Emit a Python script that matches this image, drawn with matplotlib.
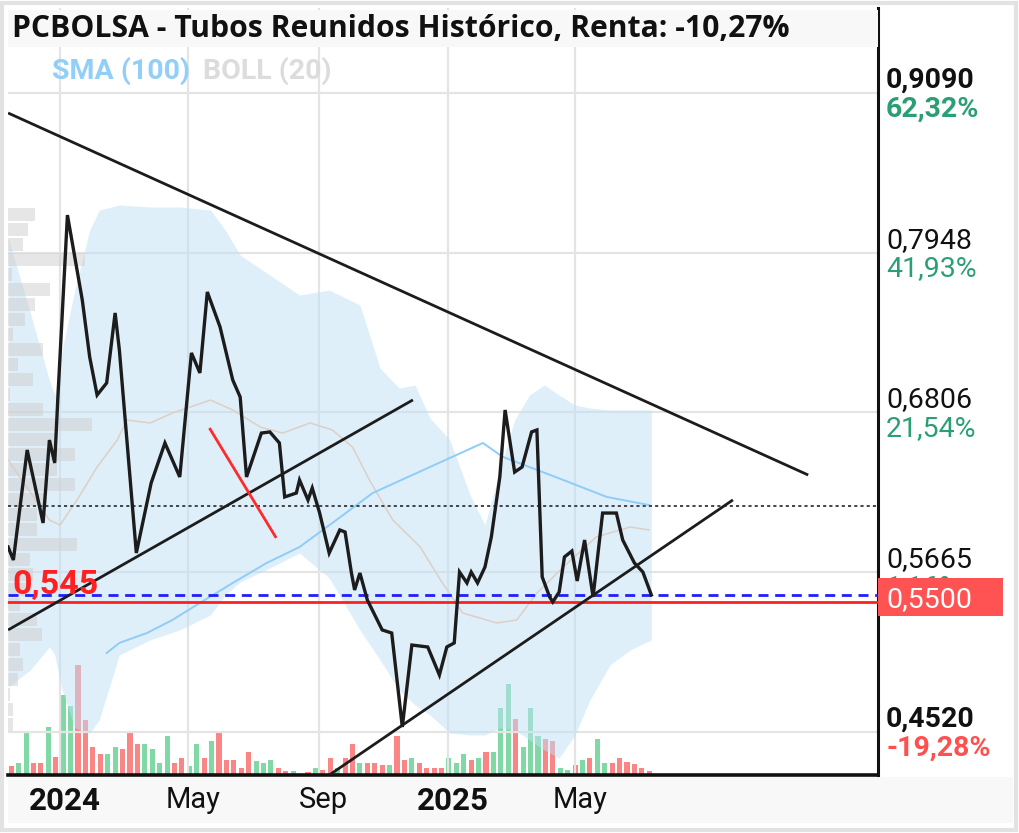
import matplotlib
matplotlib.use("Agg")
import matplotlib.pyplot as plt
import matplotlib.transforms as mtransforms
from matplotlib.patches import Rectangle
import numpy as np
import pandas as pd

# ---------------- data ----------------
title = "PCBOLSA - Tubos Reunidos Histórico, Renta: -10,27%"

price_dates = ["2023-11-13", "2023-11-18", "2023-12-01", "2023-12-16", "2023-12-22", "2023-12-27",
               "2023-12-30", "2024-01-08", "2024-01-22", "2024-01-29", "2024-02-05", "2024-02-14",
               "2024-02-22", "2024-02-26", "2024-03-13", "2024-03-27", "2024-04-09", "2024-04-23",
               "2024-05-04", "2024-05-12", "2024-05-19", "2024-05-31", "2024-06-12", "2024-06-19",
               "2024-06-25", "2024-07-09", "2024-07-17", "2024-07-26", "2024-07-31", "2024-08-11",
               "2024-08-14", "2024-08-22", "2024-08-26", "2024-09-02", "2024-09-11", "2024-09-21",
               "2024-09-26", "2024-10-02", "2024-10-05", "2024-10-10", "2024-10-17", "2024-10-31",
               "2024-11-09", "2024-11-19", "2024-11-28", "2024-12-13", "2024-12-24", "2024-12-31",
               "2025-01-07", "2025-01-12", "2025-01-19", "2025-01-23", "2025-01-29", "2025-02-05",
               "2025-02-11", "2025-02-19", "2025-02-24", "2025-03-05", "2025-03-12", "2025-03-21",
               "2025-03-26", "2025-03-31", "2025-04-07", "2025-04-10", "2025-04-16", "2025-04-21",
               "2025-04-28", "2025-05-03", "2025-05-10", "2025-05-18", "2025-05-27", "2025-06-09",
               "2025-06-15", "2025-06-26", "2025-07-04", "2025-07-12"]
price_close = [0.5843, 0.5750, 0.6537, 0.6015, 0.6608, 0.6444,
               0.6916, 0.8217, 0.7610, 0.7202, 0.6930, 0.7016,
               0.7517, 0.7252, 0.5800, 0.6301, 0.6587, 0.6344,
               0.7231, 0.7088, 0.7667, 0.7417, 0.7037, 0.6916,
               0.6344, 0.6658, 0.6666, 0.6587, 0.6201, 0.6229,
               0.6322, 0.6179, 0.6265, 0.6086, 0.5800, 0.5965,
               0.5950, 0.5657, 0.5536, 0.5657, 0.5464, 0.5250,
               0.5228, 0.4556, 0.5142, 0.5128, 0.4928, 0.5128,
               0.5157, 0.5664, 0.5586, 0.5664, 0.5586, 0.5700,
               0.5915, 0.6344, 0.6823, 0.6379, 0.6415, 0.6666,
               0.6680, 0.5629, 0.5486, 0.5450, 0.5521, 0.5772,
               0.5814, 0.5600, 0.5893, 0.5486, 0.6086, 0.6086,
               0.5893, 0.5729, 0.5664, 0.5500]

band_dates = ["2023-11-13", "2023-12-04", "2023-12-22", "2023-12-27", "2024-01-03", "2024-01-15",
              "2024-01-29", "2024-02-07", "2024-02-26", "2024-03-26", "2024-04-23", "2024-05-22",
              "2024-06-05", "2024-06-19", "2024-07-17", "2024-08-14", "2024-09-11", "2024-10-10",
              "2024-10-29", "2024-11-16", "2024-12-01", "2024-12-15", "2025-01-03", "2025-01-22",
              "2025-02-05", "2025-02-19", "2025-03-05", "2025-03-19", "2025-04-02", "2025-04-16",
              "2025-05-01", "2025-05-15", "2025-06-03", "2025-06-22", "2025-07-12"]
band_upper = [0.8060, 0.7517, 0.7037, 0.6930, 0.7252, 0.7681,
              0.8110, 0.8253, 0.8289, 0.8275, 0.8275, 0.8253,
              0.8110, 0.7931, 0.7788, 0.7645, 0.7681, 0.7574,
              0.7123, 0.6980, 0.7002, 0.6766, 0.6608, 0.6215,
              0.6000, 0.6394, 0.6751, 0.6930, 0.7002, 0.6930,
              0.6859, 0.6837, 0.6823, 0.6823, 0.6823]
band_lower = [0.4842, 0.4963, 0.5128, 0.5071, 0.4820, 0.4549,
              0.4513, 0.4606, 0.5071, 0.5178, 0.5250, 0.5357,
              0.5500, 0.5593, 0.5693, 0.5800, 0.5621, 0.5250,
              0.5035, 0.4820, 0.4713, 0.4642, 0.4513, 0.4499,
              0.4499, 0.4549, 0.4534, 0.4463, 0.4391, 0.4334,
              0.4499, 0.4749, 0.4999, 0.5107, 0.5178]

mid_dates = ["2023-11-13", "2023-12-22", "2024-01-01", "2024-01-17", "2024-02-05", "2024-02-24",
             "2024-03-04", "2024-03-26", "2024-04-16", "2024-05-22", "2024-06-12", "2024-07-08",
             "2024-07-29", "2024-08-24", "2024-09-14", "2024-10-03", "2024-10-19", "2024-11-10",
             "2024-12-06", "2024-12-25", "2025-01-15", "2025-02-16", "2025-03-07", "2025-03-26",
             "2025-04-20", "2025-05-21", "2025-06-22", "2025-07-10"]
mid_values = [0.6465, 0.6036, 0.6000, 0.6179, 0.6415, 0.6608,
              0.6751, 0.6730, 0.6801, 0.6894, 0.6823, 0.6701,
              0.6658, 0.6730, 0.6680, 0.6558, 0.6322, 0.6036,
              0.5843, 0.5607, 0.5371, 0.5300, 0.5321, 0.5514,
              0.5700, 0.5915, 0.5986, 0.5965]

sma_dates = ["2024-02-14", "2024-02-26", "2024-03-23", "2024-04-16", "2024-05-12", "2024-06-12",
             "2024-07-14", "2024-08-14", "2024-09-14", "2024-10-22", "2024-12-15", "2025-02-03",
             "2025-02-22", "2025-03-19", "2025-04-20", "2025-05-31", "2025-07-10"]
sma_values = [0.5085, 0.5157, 0.5228, 0.5321, 0.5443, 0.5586,
              0.5729, 0.5843, 0.6015, 0.6229, 0.6415, 0.6587,
              0.6487, 0.6415, 0.6322, 0.6201, 0.6143]

vol_start = "2023-11-16"
volume = [27, 35, 134, 37, 37, 144, 54, 242, 209, 332,
          167, 85, 62, 62, 85, 77, 134, 94, 94, 77,
          37, 119, 37, 52, 27, 94, 52, 104, 134, 45,
          45, 20, 70, 42, 35, 45, 20, 12, 12, 4,
          10, 20, 14, 52, 22, 52, 94, 37, 37, 37,
          29, 29, 119, 45, 52, 37, 20, 20, 20, 52,
          37, 62, 45, 52, 69, 69, 202, 274, 169, 85,
          202, 119, 110, 104, 20, 14, 29, 45, 52, 110,
          37, 37, 52, 39, 32, 20, 12]
vol_dir = ("RGGRRGRGGR" "RRRGGRRRGG" "GGRRGGRGRR" "RRRGGGRRGG" "RGRRGRRGRR"
           "RGRRGRRRRG" "GGRGRGGGRG" "GGRRGGRGRG" "GRRRRRR")

profile_price = [0.8221, 0.8114, 0.8006, 0.7899, 0.7792, 0.7685, 0.7577, 0.7470, 0.7363,
                 0.7255, 0.7148, 0.7041, 0.6934, 0.6826, 0.6719, 0.6612, 0.6504, 0.6397,
                 0.6290, 0.6183, 0.6075, 0.5968, 0.5861, 0.5753, 0.5646, 0.5539, 0.5432,
                 0.5324, 0.5217, 0.5110, 0.5002, 0.4895, 0.4788, 0.4681, 0.4573]
profile_vol = [27, 20, 15, 77, 4, 42, 27, 17, 5,
               35, 10, 25, 2, 35, 84, 47, 67, 49,
               67, 39, 29, 29, 69, 22, 25, 22, 12,
               29, 34, 12, 15, 10, 2, 5, 5]

level_ticks = [0.9090, 0.7948, 0.6806, 0.5665, 0.4520]
level_text = ["0,9090", "0,7948", "0,6806", "0,5665", "0,4520"]
level_pct = ["62,32%", "41,93%", "21,54%", "1,16%", "-19,28%"]

last_price = 0.5500
last_text = "0,5500"
support_level = 0.545
support_text = "0,545"
dotted_level = 0.6137

trend_down = (["2023-11-13", "2025-12-07"], [0.8947, 0.6358])
channel_up = (["2023-11-13", "2024-11-29"], [0.5250, 0.6895])
support_up = (["2024-09-11", "2025-09-27"], [0.4212, 0.6180])
red_segment = (["2024-05-21", "2024-07-23"], [0.6694, 0.5908])

x_tick_dates = ["2024-01-01", "2024-05-01", "2024-09-01", "2025-01-01", "2025-05-01"]
x_tick_labels = ["2024", "May", "Sep", "2025", "May"]
x_tick_bold = [True, False, False, True, False]

# ---------------- layout ----------------
W, H, DPI = 1020, 833, 100
fig = plt.figure(figsize=(W / DPI, H / DPI), dpi=DPI)
fig.patch.set_facecolor("white")


def fx(px):
    return px / W


def fy(py):
    return 1 - py / H


AX_L, AX_R, AX_T, AX_B = 8, 878, 8, 775
rect = [fx(AX_L), fy(AX_B), fx(AX_R) - fx(AX_L), fy(AX_T) - fy(AX_B)]
axv = fig.add_axes(rect)
ax = fig.add_axes(rect, sharex=axv)
ax.set_zorder(2)
ax.patch.set_visible(False)

XLIM = (pd.Timestamp("2023-11-12 22:00"), pd.Timestamp("2026-02-10 21:00"))
YLIM = (0.42125, 0.96979)
ax.set_xlim(*XLIM)
ax.set_ylim(*YLIM)

FONT = "Roboto"
GREEN_T = "#2a9f74"
RED_T = "#ff5050"
LBL_SIZE = 20.5

# grid
for t in level_ticks:
    ax.axhline(t, color="#e4e4e4", lw=1.6, zorder=0.5)
for d in x_tick_dates:
    ax.axvline(pd.Timestamp(d), color="#e4e4e4", lw=1.6, zorder=0.5)

# volume
vol_dates = pd.date_range(vol_start, periods=len(volume), freq="7D")
vcolors = ["#80d9a5" if c == "G" else "#f98585" for c in vol_dir]
axv.bar(vol_dates, volume, width=4.8, color=vcolors, zorder=1)
axv.set_ylim(0, 2315)
axv.set_yticks([])
for s in axv.spines.values():
    s.set_visible(False)
axv.tick_params(axis="x", length=0, labelbottom=False)

# bollinger band
bd = pd.to_datetime(band_dates)
ax.fill_between(bd, band_lower, band_upper, color="#c1e1f7", alpha=0.5, lw=0, zorder=1)
ax.plot(pd.to_datetime(mid_dates), mid_values, color="#dccfc6", lw=1.1, zorder=2)
ax.plot(pd.to_datetime(sma_dates), sma_values, color="#8ecdf6", lw=1.4, zorder=2)

# volume profile (left)
pv = np.array(profile_vol, dtype=float)
ax.barh(profile_price, pv / 870.0, height=0.0098, left=0,
        transform=ax.get_yaxis_transform(), color="#cfcfcf", alpha=0.5,
        lw=0, zorder=2.5)

# horizontal levels
ax.axhline(dotted_level, color="#444444", lw=1.4, ls=(0, (1.6, 1.6)), zorder=3)
ax.axhline(last_price, color="#1f1fff", lw=2.0, ls=(0, (3.6, 2.4)), zorder=3.2)
ax.axhline(support_level, color="#ff1f1f", lw=2.0, zorder=3.1)

# price
ax.plot(pd.to_datetime(price_dates), price_close, color="#1c1c1c", lw=2.4,
        zorder=5, solid_joinstyle="miter")

# trend lines
for (dts, vals), col in [(trend_down, "#1c1c1c"), (channel_up, "#1c1c1c"),
                         (support_up, "#1c1c1c"), (red_segment, "#ff2a2a")]:
    ax.plot(pd.to_datetime(dts), vals, color=col, lw=2.0, zorder=6,
            solid_capstyle="butt")

# spines
for k in ["left", "top"]:
    ax.spines[k].set_visible(False)
ax.spines["right"].set_color("#111111")
ax.spines["right"].set_linewidth(2.2)
ax.spines["bottom"].set_color("#111111")
ax.spines["bottom"].set_linewidth(2.6)
ax.set_yticks([])

# x ticks
ax.set_xticks(pd.to_datetime(x_tick_dates))
ax.set_xticklabels(x_tick_labels)
ax.tick_params(axis="x", length=0, pad=8)
shift = mtransforms.ScaledTranslation(5 / DPI, 0, fig.dpi_scale_trans)
for lab, b in zip(ax.get_xticklabels(), x_tick_bold):
    lab.set_fontfamily(FONT)
    lab.set_fontsize(22.5 if b else 21)
    lab.set_fontweight("bold" if b else "normal")
    lab.set_color("#111111")
    lab.set_transform(lab.get_transform() + shift)

# right price labels
ytr = ax.get_yaxis_transform()
xlab = (886 - AX_L) / (AX_R - AX_L)
n = len(level_ticks)
for i, (t, txt, pct) in enumerate(zip(level_ticks, level_text, level_pct)):
    bold = i == 0 or i == n - 1
    pc = RED_T if pct.startswith("-") else GREEN_T
    tr1 = mtransforms.offset_copy(ytr, fig=fig, y=3.5, units="points")
    tr2 = mtransforms.offset_copy(ytr, fig=fig, y=-17.0, units="points")
    ax.text(xlab, t, txt, transform=tr1, fontsize=LBL_SIZE, family=FONT, va="baseline",
            ha="left", color="#111111", fontweight="bold" if bold else "normal",
            clip_on=False, zorder=7)
    ax.text(xlab, t, pct, transform=tr2, fontsize=LBL_SIZE, family=FONT, va="baseline",
            ha="left", color=pc, fontweight="bold" if bold else "normal",
            clip_on=False, zorder=7)

# last price box
box_h = 38 * (YLIM[1] - YLIM[0]) / (AX_B - AX_T)
ax.add_patch(Rectangle((1.0, last_price - box_h / 2 - 0.0012), (1003 - AX_R) / (AX_R - AX_L), box_h,
                       transform=ytr, color="#ff5252", clip_on=False, zorder=8, lw=0))
trb = mtransforms.offset_copy(ytr, fig=fig, y=-8.8, units="points")
ax.text(xlab, last_price, last_text, transform=trb, fontsize=LBL_SIZE, family=FONT,
        va="baseline", ha="left", color="white", clip_on=False, zorder=9)

# support label on left
trs = mtransforms.offset_copy(ytr, fig=fig, y=6.0, units="points")
ax.text((12 - AX_L) / (AX_R - AX_L), support_level, support_text, transform=trs,
        fontsize=24.5, family=FONT, fontweight="bold", color="#ff2020", va="baseline",
        ha="left", zorder=7)

# title band & legend
fig.patches.append(Rectangle((fx(8), fy(47)), fx(878) - fx(8), fy(10) - fy(47),
                             transform=fig.transFigure, color="#f8f8f8", zorder=3, lw=0))
fig.text(fx(12), fy(29), title, fontsize=21.7, fontweight="bold", family="Open Sans",
         va="center", ha="left", color="#111111", zorder=4)
fig.text(fx(52), fy(71), "SMA (100)", fontsize=20.5, fontweight="bold", family=FONT,
         va="center", ha="left", color="#92cff8", zorder=4)
fig.text(fx(203), fy(71), "BOLL (20)", fontsize=20.5, fontweight="bold", family=FONT,
         va="center", ha="left", color="#dcdcdc", zorder=4)

# bottom band and frame
fig.patches.append(Rectangle((fx(8), fy(823)), fx(1013) - fx(8), fy(777) - fy(823),
                             transform=fig.transFigure, color="#f8f8f8", zorder=-1, lw=0))
fig.patches.append(Rectangle((fx(2), fy(830)), fx(1016) - fx(2), fy(3) - fy(830),
                             transform=fig.transFigure, fill=False, edgecolor="#e2e2e2",
                             lw=3, zorder=10))

fig.savefig("out.png", dpi=DPI)
